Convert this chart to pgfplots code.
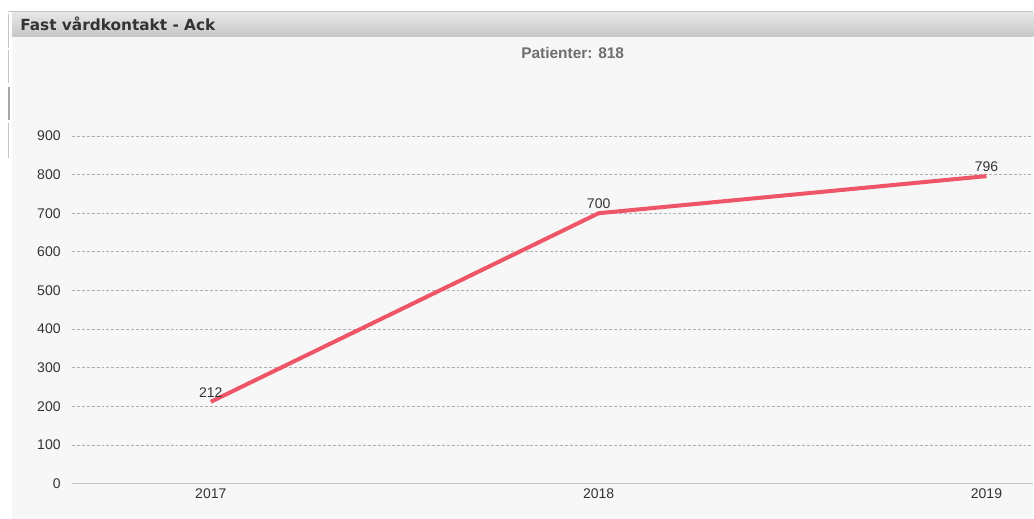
\documentclass[border=0pt]{standalone}
\usepackage{pgfplots}
\pgfplotsset{compat=1.18}
\usepackage{fontspec}
\setmainfont{Liberation Sans}
\newfontfamily\titlefont{DejaVu Sans}
\definecolor{panelbg}{HTML}{F7F7F7}
\definecolor{barTop}{HTML}{E6E6E6}
\definecolor{barBot}{HTML}{C6C6C6}
\definecolor{linecol}{HTML}{EE5566}
\definecolor{gridcol}{HTML}{B0B0B0}
\definecolor{axcol}{HTML}{C4C4C4}
\definecolor{txt}{HTML}{333333}
\definecolor{subtxt}{HTML}{6E6E6E}
\begin{document}
\begin{tikzpicture}
\begin{scope}[x=0.75pt,y=0.75pt]
\path[use as bounding box] (0,0) rectangle (1034,519);
\fill[white] (0,0) rectangle (1034,519);
\fill[panelbg] (12,0) rectangle (1034,507);
\draw[axcol, line width=0.75pt] (8,507.5) -- (1034,507.5);
\shade[top color=barTop, bottom color=barBot] (12,482) rectangle (1034,506);
\draw[axcol, line width=0.75pt] (9,505) -- (9,471);
\draw[axcol, line width=0.75pt] (9,469) -- (9,436);
\draw[gray!70, line width=1.5pt] (9.5,432) -- (9.5,399);
\draw[axcol, line width=0.75pt] (9,396) -- (9,361);
\node[anchor=base west, inner sep=0, text=txt, font=\titlefont\bfseries\fontsize{11.5}{13}\selectfont] at (20,488) {Fast vårdkontakt - Ack};
\node[anchor=base, inner sep=0, text=subtxt, font=\bfseries\fontsize{11.6}{13}\selectfont] at (573,460) {Patienter: 818};
\end{scope}
\begin{axis}[
  at={(54pt,26.25pt)}, anchor=south west,
  scale only axis, width=721.5pt, height=261pt,
  xmin=-0.358, xmax=2.121, ymin=0, ymax=900,
  axis line style={draw=none},
  major tick length=0pt,
  xtick={0,1,2}, xticklabels={2017,2018,2019},
  ytick={100,200,...,900},
  extra y ticks={0},
  extra y tick style={grid style={solid, axcol, line width=0.9pt}},
  ymajorgrids,
  grid style={gridcol, line width=0.6pt, dash pattern=on 2.2pt off 1.5pt},
  /pgf/number format/assume math mode=true,
  tick label style={font=\fontsize{10.5}{12}\selectfont, text=txt},
  yticklabel style={xshift=-5pt},
  clip=false,
]
\addplot[linecol, line width=3pt, line join=round, mark=none,
  nodes near coords,
  nodes near coords style={font=\fontsize{10.5}{12}\selectfont, text=txt, anchor=south, inner sep=2pt},
  point meta=explicit symbolic]
  coordinates {(0,212) [212] (1,700) [700] (2,796) [796]};
\end{axis}
\end{tikzpicture}
\end{document}
